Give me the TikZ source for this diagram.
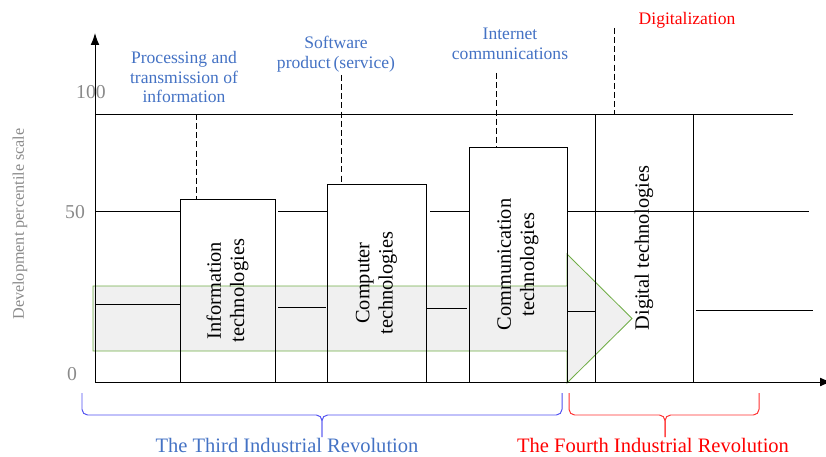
\documentclass[tikz,border=0pt]{standalone}
\usepackage{fontspec}
\setmainfont{Liberation Serif}
\usetikzlibrary{arrows.meta, fit}
\definecolor{topicblue}{HTML}{4472C4}
\definecolor{braceblue}{HTML}{5050F0}
\definecolor{bracered}{HTML}{FF3030}
\definecolor{arrowgreen}{HTML}{70AD47}
\definecolor{arrowfill}{HTML}{F0F0F0}
\definecolor{scalegray}{HTML}{8A8A8A}

\begin{document}
\begin{tikzpicture}[>={Latex[length=3mm, width=2.2mm]}, x=0.25mm, y=-0.25mm, line width=0.7pt,
  techbox/.style={draw, inner sep=0pt},
  techtext/.style={rotate=90, align=center, font=\fontsize{14.5}{16.5}\selectfont},
  topic/.style={align=center, text=topicblue, font=\fontsize{12.5}{14.2}\selectfont},
  leader/.style={dash pattern=on 4.3pt off 2.2pt},
  scalenum/.style={text=scalegray, font=\fontsize{14}{16}\selectfont},
  era/.style={font=\fontsize{14.6}{17}\selectfont}]
  \useasboundingbox (0,0) rectangle (826,457);

  \draw[arrowgreen, fill=arrowfill, line width=0.6pt] (93,286) -- (567,286) -- (567,254)
    -- (632,318.5) -- (567,383) -- (567,351) -- (93,351) -- cycle;

  \draw[->] (95,382) -- (95,33);
  \draw[->] (95,382) -- (832,382);

  \draw (95,114) -- (793,114);
  \draw (95,211) -- (180,211) (278,211) -- (327,211) (430,211) -- (469,211) (567,211) -- (809,211);
  \draw (95,304) -- (180,304) (278,307) -- (326,307) (426,308) -- (467,308)
    (567,311) -- (595,311) (696,310) -- (813,310);

  \node[techbox, fit={(180,199) (275,382)}] (infotech) {};
  \node[techbox, fit={(327,184) (426,382)}] (comptech) {};
  \node[techbox, fit={(469,147) (567,382)}] (commtech) {};
  \node[techbox, fit={(595,114) (693,382)}] (digitech) {};

  \node[techtext] (infotext) at (infotech.center) {Information\\technologies};
  \node[techtext] (comptext) at (comptech.center) {Computer\\technologies};
  \node[techtext] (commtext) at (commtech.center) {Communication\\technologies};
  \node[techtext] (digitext) at (digitech.center) {Digital technologies};

  \node[topic] (processing) at (184,77) {Processing and\\transmission of\\information};
  \node[topic] (software) at (336,54) {Software\\product\,(service)};
  \node[topic] (internet) at (510,43.5) {Internet\\communications};
  \node[topic, text=red] (digitalization) at (687,20) {Digitalization};

  \draw[leader] (196,114) -- (196,199);
  \draw[leader] (341,75) -- (341,184);
  \draw[leader] (496,73) -- (496,147);
  \draw[leader] (614,28) -- (614,114);

  \node[scalenum] (s100) at (91,92) {100};
  \node[scalenum] (s50) at (75,212) {50};
  \node[scalenum] (s0) at (72,374) {0};
  \node[rotate=90, text=scalegray, font=\fontsize{11.5}{13}\selectfont] (scale) at (20,224)
    {Development percentile scale};

  \draw[braceblue, rounded corners=4pt] (82,393) -- (82,415) -- (322,415) -- (322,437);
  \draw[braceblue, rounded corners=4pt] (562,393) -- (562,415) -- (322,415) -- (322,437);
  \draw[bracered, rounded corners=4pt] (569,393) -- (569,415) -- (665,415) -- (665,437);
  \draw[bracered, rounded corners=4pt] (759,393) -- (759,415) -- (665,415) -- (665,437);

  \node[era, text=topicblue] (third) at (287,445) {The Third Industrial Revolution};
  \node[era, text=red] (fourth) at (653,445) {The Fourth Industrial Revolution};
\end{tikzpicture}
\end{document}
